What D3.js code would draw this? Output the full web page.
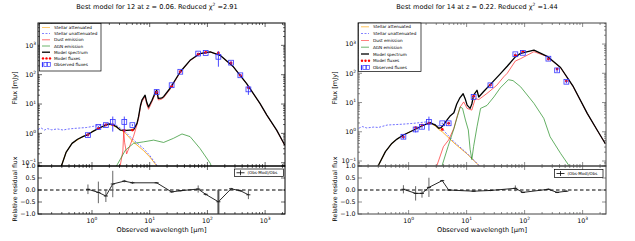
<!DOCTYPE html>
<html>
<head>
<meta charset="utf-8">
<script src="https://cdn.jsdelivr.net/npm/d3@7"></script>
<style>
body { margin: 0; background: #fff; }
svg { display: block; font-family: "DejaVu Sans", sans-serif; }
</style>
</head>
<body>
<div id="chart"></div>
<script>
// ---- data: [wavelength um, flux mJy] ----

// object 12 (left)
var leftModel = [[0.263,0.040],[0.355,0.224],[0.451,0.457],[0.562,0.631],[0.708,0.794],[0.818,0.871],[1.0,1.12],[1.30,1.48],[1.585,1.78],[1.94,2.09],[2.24,2.0],[2.69,1.66],[3.09,1.29],[3.98,1.26],[5.25,1.32],[6.03,2.19],[6.40,3.63],[6.92,8.9],[7.33,13.5],[8.32,20],[8.91,11.2],[9.55,7.9],[10.96,13.5],[12.6,25.7],[13.2,29.5],[14.1,15.5],[15.8,15.8],[17.4,17.8],[22.4,33.9],[33.9,126],[50.1,309],[74.1,525],[112,603],[166,457],[282,186],[479,50],[813,10.5],[1072,4.2],[1585,1.29],[2188,0.40]];
var leftStellarAtt = [[0.263,0.040],[0.355,0.224],[0.451,0.457],[0.708,0.794],[1.0,1.12],[1.30,1.48],[1.94,2.0],[2.24,1.91],[2.69,1.58],[3.16,1.32],[3.80,1.0],[4.47,0.708],[5.25,0.501],[7.76,0.263],[10,0.158],[13.2,0.079],[15.8,0.05]];
var leftStellarUnatt = [[0.117,1.35],[0.13,1.55],[0.15,1.30],[0.17,1.45],[0.2,1.32],[0.25,1.42],[0.316,1.30],[0.38,1.40],[0.501,1.48],[0.794,1.58],[1.38,1.91],[2.09,2.19],[2.63,1.91],[3.80,1.12],[5.25,0.589],[7.76,0.309],[10,0.178],[13.2,0.083],[15.8,0.05]];
var leftDust = [[2.95,0.05],[3.43,0.251],[3.55,1.2],[3.67,0.5],[3.98,0.2],[4.47,0.355],[5.25,0.794],[6.03,2.0],[6.40,3.16],[6.92,7.94],[7.33,12.0],[8.32,17.8],[8.91,9.55],[9.55,6.61],[10.96,12.0],[12.6,22.9],[13.2,26.3],[14.1,13.8],[15.8,14.5],[17.4,16.2],[22.4,31.6],[33.9,120],[50.1,302],[74.1,513],[112,596],[166,452],[282,184],[479,49.5],[813,10.4],[1072,4.1],[1585,1.27],[2188,0.39]];
var leftAgn = [[2.34,0.05],[3.80,0.269],[5.25,0.457],[7.76,0.513],[11.7,0.589],[17.4,0.490],[25.7,0.676],[36.3,0.955],[50.1,0.776],[74.1,0.309],[112,0.0955],[126,0.05]];
var leftBands   = [0.851, 1.29, 1.74, 2.29, 3.63, 5.01, 13.2, 24.0, 33.9, 69.2, 93.3, 155, 257, 372, 513];
var leftObs     = [0.871, 1.66, 1.91, 2.45, 2.45, 1.91, 25.7, 43.7, 126, 525, 550, 407, 257, 95.5, 31.6];
var leftObsErr  = [0.1, 0.15, 0.2, 1.3, 1.3, 0.15, 2, 3, 8, 30, 40, 220, 25, 10, 11];
var leftMod     = [0.89, 1.48, 1.95, 1.95, 1.26, 1.3, 25, 40, 126, 500, 575, 550, 250, 95, 36];
var leftRes     = [0.03, -0.1, -0.25, 0.25, 0.37, 0.30, 0.30, -0.08, -0.03, 0.04, -0.18, -0.49, 0.05, -0.03, -0.2];
var leftResErr  = [0.2, 0.45, 0.25, 0.55, 0.05, 0.05, 0.03, 0.03, 0.03, 0.15, 0.05, 0.5, 0.04, 0.04, 0.18];

// object 14 (right)
var rightModel = [[0.275,0.04],[0.302,0.072],[0.398,0.209],[0.513,0.398],[0.631,0.562],[0.813,0.776],[1.23,1.15],[1.82,1.70],[2.34,2.04],[2.88,1.70],[3.31,1.32],[3.63,1.38],[3.98,1.70],[4.57,2.51],[5.25,3.55],[6.03,4.47],[6.76,8.91],[7.59,14.1],[8.71,20.0],[9.55,12.6],[10.2,8.13],[11.5,6.31],[12.3,8.91],[13.2,17.8],[15.1,26.3],[16.2,15.5],[19.5,23.4],[25.7,41.7],[38.0,95.5],[50.1,174],[69.2,363],[85.1,479],[145,617],[245,380],[417,158],[692,34.7],[1202,4.27],[1778,1.15],[2455,0.398]];
var rightStellarAtt = [[0.275,0.04],[0.302,0.072],[0.398,0.209],[0.513,0.398],[0.631,0.562],[0.813,0.776],[1.23,1.15],[1.82,1.70],[2.34,2.0],[2.88,1.58],[3.31,1.20],[3.80,1.0],[4.57,0.708],[6.03,0.417],[10.2,0.174],[16.2,0.071],[20.0,0.04]];
var rightStellarUnatt = [[0.138,1.32],[0.16,1.50],[0.19,1.35],[0.251,1.45],[0.3,1.40],[0.427,1.70],[0.794,1.82],[1.23,1.95],[2.09,2.19],[2.82,1.82],[3.55,1.48],[4.57,0.832],[6.03,0.457],[10.2,0.182],[16.2,0.072],[20.0,0.04]];
var rightDust = [[2.82,0.04],[3.09,0.072],[3.98,0.309],[4.90,0.525],[6.03,1.32],[6.92,3.55],[7.76,7.08],[8.91,10.5],[10.2,6.31],[12.3,5.50],[14.1,13.8],[16.2,12.6],[22.4,20.4],[33.1,38.9],[43.7,75.9],[50.1,100],[69.2,263],[85.1,316],[145,550],[245,372],[417,155],[692,34.3],[1202,4.22],[1778,1.14],[2455,0.394]];
var rightAgn = [[3.63,0.04],[3.80,0.072],[4.79,0.316],[6.03,1.26],[6.76,2.82],[7.76,7.08],[8.51,6.31],[9.55,2.51],[10.7,1.15],[11.5,0.251],[12.3,0.112],[13.2,0.316],[15.1,1.48],[17.4,6.31],[22.4,7.94],[29.5,15.5],[38.0,31.6],[52.5,60.3],[63.1,56.2],[85.1,34.7],[145,9.33],[214,2.88],[275,0.676],[417,0.182],[575,0.072],[708,0.04]];
var rightBands  = [0.813, 1.32, 1.70, 2.24, 3.80, 4.90, 13.2, 25.7, 69.2, 93.3, 257, 363, 525];
var rightObs    = [0.676, 1.20, 1.48, 2.19, 1.95, 1.95, 15.5, 38.9, 447, 501, 316, 126, 51.3];
var rightObsErr = [0.1, 0.25, 0.2, 1.1, 0.1, 0.1, 1, 3, 25, 30, 20, 15, 6];
var rightMod    = [0.66, 1.37, 1.69, 1.95, 1.2, 1.95, 16.3, 39.7, 415, 551, 306, 139, 54];
var rightRes    = [0.03, -0.14, -0.14, 0.11, 0.39, 0.0, -0.05, -0.02, 0.07, -0.1, 0.03, -0.1, -0.05];
var rightResErr = [0.17, 0.3, 0.18, 0.4, 0.03, 0.03, 0.03, 0.03, 0.12, 0.03, 0.03, 0.03, 0.03];

var titles = [
    ['Best model for 12 at z = 0.06. Reduced ', '=2.91'],
    ['Best model for 14 at z = 0.22. Reduced ', '=1.44']
];
var resTicks = [-1.0, -0.5, 0.0, 0.5, 1.0];
var legendLabels = ['Stellar attenuated', 'Stellar unattenuated', 'Dust emission', 'AGN emission',
    'Model spectrum', 'Model fluxes', 'Observed fluxes'];

// ---- layout ----
var panels = [
    { left: 38, right: 285, top: 23, mid: 166, bottom: 214, xDomain: [0.116, 2210], yDomain: [0.0773, 5780],
      frame: '#000', title: titles[0], titleX: 157, ylabX: 15,
      leg: { x: 39.5, y: 23.5, w: 61.5, h: 47.5, y0: 27.4, dy: 6.2 },
      resLeg: { x: 234.5, y: 169, w: 49, h: 7.5 },
      model: leftModel, att: leftStellarAtt, unatt: leftStellarUnatt, dust: leftDust, agn: leftAgn,
      bands: leftBands, obs: leftObs, obsErr: leftObsErr, mod: leftMod, res: leftRes, resErr: leftResErr },
    { left: 358, right: 606, top: 23, mid: 166, bottom: 214, xDomain: [0.134, 2531], yDomain: [0.0675, 5250],
      frame: '#444', title: titles[1], titleX: 477, ylabX: 335,
      leg: { x: 358.5, y: 23, w: 62.5, h: 48.5, y0: 26.8, dy: 6.8 },
      resLeg: { x: 554.5, y: 169.5, w: 48.5, h: 8 },
      model: rightModel, att: rightStellarAtt, unatt: rightStellarUnatt, dust: rightDust, agn: rightAgn,
      bands: rightBands, obs: rightObs, obsErr: rightObsErr, mod: rightMod, res: rightRes, resErr: rightResErr }
];

var COL = { att: '#ffa500', unatt: '#2a2aff', dust: '#ff2020', agn: '#1a8a1a', model: '#000', obs: '#3434ff', mod: '#ff0000' };

var svg = d3.select('#chart').append('svg').attr('width', 635).attr('height', 241);

function isMajor(v) {
    var l = Math.log10(v);
    return Math.abs(l - Math.round(l)) < 1e-6;
}

function powLabel(g, x, y, e, anchor) {
    var t = g.append('text').attr('x', x).attr('y', y).attr('text-anchor', anchor)
        .style('font-size', '6.3px').attr('fill', '#000');
    t.append('tspan').text('10');
    t.append('tspan').attr('dy', -2.8).style('font-size', '4.4px').text(e < 0 ? '\u2212' + (-e) : e);
}

function drawPanel(p, idx) {
    var g = svg.append('g');
    var x = d3.scaleLog().domain(p.xDomain).range([p.left, p.right]);
    var y = d3.scaleLog().domain(p.yDomain).range([p.mid, p.top]);
    var yr = d3.scaleLinear().domain([-1, 1]).range([p.bottom, p.mid]);

    var clip = 'clipMain' + idx;
    g.append('clipPath').attr('id', clip).append('rect')
        .attr('x', p.left).attr('y', p.top).attr('width', p.right - p.left).attr('height', p.mid - p.top);
    var clipR = 'clipRes' + idx;
    g.append('clipPath').attr('id', clipR).append('rect')
        .attr('x', p.left).attr('y', p.mid).attr('width', p.right - p.left).attr('height', p.bottom - p.mid);

    var line = d3.line().x(function(d) { return x(d[0]); }).y(function(d) { return y(d[1]); });
    var plot = g.append('g').attr('clip-path', 'url(#' + clip + ')');

    plot.append('path').datum(p.att).attr('d', line).attr('fill', 'none')
        .attr('stroke', COL.att).attr('stroke-width', 0.8);
    plot.append('path').datum(p.unatt).attr('d', line).attr('fill', 'none')
        .attr('stroke', COL.unatt).attr('stroke-width', 0.8).attr('stroke-dasharray', '2,1.5').attr('opacity', 0.85);
    plot.append('path').datum(p.dust).attr('d', line).attr('fill', 'none')
        .attr('stroke', COL.dust).attr('stroke-width', 0.8).attr('opacity', 0.85);
    plot.append('path').datum(p.agn).attr('d', line).attr('fill', 'none')
        .attr('stroke', COL.agn).attr('stroke-width', 0.8).attr('opacity', 0.85);
    plot.append('path').datum(p.model).attr('d', line).attr('fill', 'none')
        .attr('stroke', COL.model).attr('stroke-width', 1.3).attr('stroke-linejoin', 'round');

    // model fluxes
    plot.selectAll('circle.mod').data(p.bands).enter().append('circle')
        .attr('cx', function(d) { return x(d); })
        .attr('cy', function(d, i) { return y(p.mod[i]); })
        .attr('r', 1.4).attr('fill', COL.mod);

    // observed fluxes with error bars
    plot.selectAll('line.obs').data(p.bands).enter().append('line')
        .attr('x1', function(d) { return x(d); }).attr('x2', function(d) { return x(d); })
        .attr('y1', function(d, i) { return y(p.obs[i] + p.obsErr[i]); })
        .attr('y2', function(d, i) { return y(Math.max(p.obs[i] - p.obsErr[i], p.yDomain[0])); })
        .attr('stroke', COL.obs).attr('stroke-width', 0.9);
    plot.selectAll('rect.obs').data(p.bands).enter().append('rect')
        .attr('x', function(d) { return x(d) - 2.4; })
        .attr('y', function(d, i) { return y(p.obs[i]) - 2.4; })
        .attr('width', 4.8).attr('height', 4.8)
        .attr('fill', 'none').attr('stroke', COL.obs).attr('stroke-width', 0.8);

    // residuals
    var rp = g.append('g').attr('clip-path', 'url(#' + clipR + ')');
    rp.append('line').attr('x1', p.left).attr('x2', p.right).attr('y1', yr(0)).attr('y2', yr(0))
        .attr('stroke', '#000').attr('stroke-width', 1).attr('stroke-dasharray', '3.5,2.5');
    var rline = d3.line().x(function(d) { return x(d); }).y(function(d, i) { return yr(p.res[i]); });
    rp.append('path').datum(p.bands).attr('d', rline).attr('fill', 'none')
        .attr('stroke', '#111').attr('stroke-width', 0.9);
    rp.selectAll('line.rerr').data(p.bands).enter().append('line')
        .attr('x1', function(d) { return x(d); }).attr('x2', function(d) { return x(d); })
        .attr('y1', function(d, i) { return yr(p.res[i] + p.resErr[i]); })
        .attr('y2', function(d, i) { return yr(p.res[i] - p.resErr[i]); })
        .attr('stroke', '#555').attr('stroke-width', function(d, i) { return p.resErr[i] > 0.48 && p.res[i] < -0.3 ? 2 : 0.9; });
    rp.selectAll('line.rmk').data(p.bands).enter().append('line')
        .attr('x1', function(d) { return x(d) - 2; }).attr('x2', function(d) { return x(d) + 2; })
        .attr('y1', function(d, i) { return yr(p.res[i]); }).attr('y2', function(d, i) { return yr(p.res[i]); })
        .attr('stroke', '#111').attr('stroke-width', 0.9);

    // frames
    g.append('rect').attr('x', p.left).attr('y', p.top).attr('width', p.right - p.left).attr('height', p.mid - p.top)
        .attr('fill', 'none').attr('stroke', p.frame).attr('stroke-width', 1);
    g.append('rect').attr('x', p.left).attr('y', p.mid).attr('width', p.right - p.left).attr('height', p.bottom - p.mid)
        .attr('fill', 'none').attr('stroke', p.frame).attr('stroke-width', 1);

    // ticks (inward, all sides)
    var tk = g.append('g').attr('stroke', p.frame).attr('stroke-width', 0.6);
    x.ticks().forEach(function(v) {
        var L = isMajor(v) ? 4 : 2, px = x(v);
        [[p.top, 1], [p.mid, -1], [p.mid, 1], [p.bottom, -1]].forEach(function(s) {
            tk.append('line').attr('x1', px).attr('x2', px).attr('y1', s[0]).attr('y2', s[0] + s[1] * L);
        });
        if (isMajor(v)) powLabel(g, px, p.bottom + 9, Math.round(Math.log10(v)), 'middle');
    });
    y.ticks().forEach(function(v) {
        var L = isMajor(v) ? 4 : 2, py = y(v);
        tk.append('line').attr('x1', p.left).attr('x2', p.left + L).attr('y1', py).attr('y2', py);
        tk.append('line').attr('x1', p.right).attr('x2', p.right - L).attr('y1', py).attr('y2', py);
        if (isMajor(v)) powLabel(g, p.left - 2, py + 2.3, Math.round(Math.log10(v)), 'end');
    });
    resTicks.forEach(function(v) {
        var py = yr(v);
        tk.append('line').attr('x1', p.left).attr('x2', p.left + 4).attr('y1', py).attr('y2', py);
        tk.append('line').attr('x1', p.right).attr('x2', p.right - 4).attr('y1', py).attr('y2', py);
        g.append('text').attr('x', p.left - 2.5).attr('y', py + 2.3).attr('text-anchor', 'end')
            .style('font-size', '6.3px').text(v < 0 ? '\u2212' + (-v).toFixed(1) : v.toFixed(1));
    });

    // titles and axis labels
    var t = g.append('text').attr('x', p.titleX).attr('y', 9).attr('text-anchor', 'middle').style('font-size', '6.6px');
    t.append('tspan').text(p.title[0] + '\u03c7');
    t.append('tspan').attr('dy', -2.6).style('font-size', '4.4px').text('2');
    t.append('tspan').attr('dy', 2.6).text(' ' + p.title[1]);

    g.append('text').attr('transform', 'translate(' + (p.ylabX + 2) + ',' + 88 + ') rotate(-90)')
        .attr('text-anchor', 'middle').style('font-size', '6.6px').text('Flux [mJy]');
    g.append('text').attr('transform', 'translate(' + (p.ylabX + 2) + ',' + 189 + ') rotate(-90)')
        .attr('text-anchor', 'middle').style('font-size', '6.2px').text('Relative residual flux');
    g.append('text').attr('x', (p.left + p.right) / 2).attr('y', 232).attr('text-anchor', 'middle')
        .style('font-size', '6.6px').text('Observed wavelength [\u03bcm]');

    // main legend
    var L = p.leg, lg = g.append('g');
    lg.append('rect').attr('x', L.x).attr('y', L.y).attr('width', L.w).attr('height', L.h)
        .attr('fill', '#fff').attr('stroke', '#000').attr('stroke-width', 0.7);
    var sx0 = L.x + 2.5, sx1 = L.x + 10.5, tx = L.x + 14.5;
    var styles = [
        { c: COL.att, w: 0.8 }, { c: COL.unatt, w: 0.8, dash: '2,1.5' }, { c: COL.dust, w: 0.8 },
        { c: COL.agn, w: 0.8 }, { c: '#000', w: 1.3 }
    ];
    legendLabels.forEach(function(lab, i) {
        var ly = L.y0 + i * L.dy;
        if (i < 5) {
            lg.append('line').attr('x1', sx0).attr('x2', sx1).attr('y1', ly).attr('y2', ly)
                .attr('stroke', styles[i].c).attr('stroke-width', styles[i].w)
                .attr('stroke-dasharray', styles[i].dash || null).attr('opacity', i < 4 ? 0.8 : 1);
        } else if (i === 5) {
            [0, 3.5, 7].forEach(function(o) {
                lg.append('circle').attr('cx', sx0 + 1 + o).attr('cy', ly).attr('r', 1.2).attr('fill', COL.mod);
            });
        } else {
            lg.append('line').attr('x1', sx0 + 0.5).attr('x2', sx0 + 0.5).attr('y1', ly - 2.5).attr('y2', ly + 2.5)
                .attr('stroke', COL.obs).attr('stroke-width', 1.2);
            [3.2, 6.6].forEach(function(o) {
                lg.append('rect').attr('x', sx0 + o - 1.3).attr('y', ly - 2).attr('width', 3).attr('height', 4)
                    .attr('fill', 'none').attr('stroke', COL.obs).attr('stroke-width', 0.7);
            });
        }
        lg.append('text').attr('x', tx).attr('y', ly + 1.5).style('font-size', '4.2px').text(lab);
    });

    // residual legend
    var R = p.resLeg;
    lg.append('rect').attr('x', R.x).attr('y', R.y).attr('width', R.w).attr('height', R.h)
        .attr('fill', '#fff').attr('stroke', '#000').attr('stroke-width', 0.7);
    var ry = R.y + R.h / 2;
    lg.append('line').attr('x1', R.x + 2).attr('x2', R.x + 10).attr('y1', ry).attr('y2', ry).attr('stroke', '#000').attr('stroke-width', 0.8);
    lg.append('line').attr('x1', R.x + 6).attr('x2', R.x + 6).attr('y1', ry - 2.5).attr('y2', ry + 2.5).attr('stroke', '#000').attr('stroke-width', 0.8);
    lg.append('text').attr('x', R.x + 13).attr('y', ry + 1.4).style('font-size', '4px').text('(Obs-Mod)/Obs');
}

panels.forEach(drawPanel);
</script>
</body>
</html>
